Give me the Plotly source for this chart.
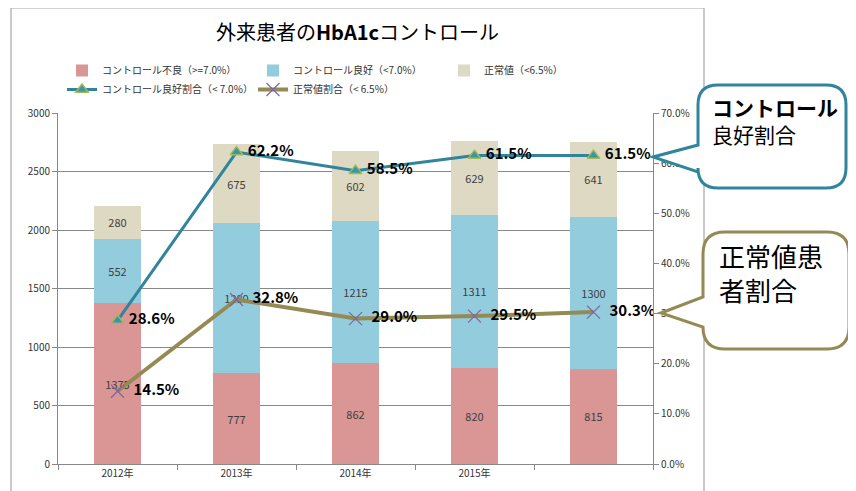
import plotly.graph_objects as go

# ---- data ----
categories = ["2012年", "2013年", "2014年", "2015年", " "]
poor_control = [1375, 777, 862, 820, 815]        # コントロール不良 (>=7.0%)
good_control = [552, 1280, 1215, 1311, 1300]     # コントロール良好 (<7.0%)
normal_value = [280, 675, 602, 629, 641]         # 正常値 (<6.5%)
good_ratio = [28.6, 62.2, 58.5, 61.5, 61.5]      # コントロール良好割合 (%)
normal_ratio = [14.5, 32.8, 29.0, 29.5, 30.3]    # 正常値割合 (%)
left_ticks = [0, 500, 1000, 1500, 2000, 2500, 3000]

# page body margin offset (browser default 8px)
OFF = 8
W, H = 856 - OFF, 491 - OFF
ML, MT = 58 - OFF, 113 - OFF
MR = W - (653 - OFF)
MB = H - (464 - OFF)
PW, PH = W - ML - MR, H - MT - MB


def px(x):
    """reference-screen x -> paper x"""
    return (x - OFF - ML) / PW


def py(y):
    """reference-screen y -> paper y"""
    return (H - MB - (y - OFF)) / PH


def callout(x0, y0, x1, y1, r, by0, by1, tx, ty):
    pts = [
        f"M{px(x0 + r)},{py(y0)}",
        f"L{px(x1 - r)},{py(y0)}",
        f"Q{px(x1)},{py(y0)} {px(x1)},{py(y0 + r)}",
        f"L{px(x1)},{py(y1 - r)}",
        f"Q{px(x1)},{py(y1)} {px(x1 - r)},{py(y1)}",
        f"L{px(x0 + r)},{py(y1)}",
        f"Q{px(x0)},{py(y1)} {px(x0)},{py(y1 - r)}",
        f"L{px(x0)},{py(by1)}",
        f"L{px(tx)},{py(ty)}",
        f"L{px(x0)},{py(by0)}",
        f"L{px(x0)},{py(y0 + r)}",
        f"Q{px(x0)},{py(y0)} {px(x0 + r)},{py(y0)}",
        "Z",
    ]
    return " ".join(pts)


FONT = "Noto Sans CJK JP"
fig = go.Figure()

fig.add_bar(x=categories, y=poor_control, name="コントロール不良（>=7.0%）",
            marker_color="#D99694", text=poor_control)
fig.add_bar(x=categories, y=good_control, name="コントロール良好（<7.0%）",
            marker_color="#93CDDD", text=good_control)
fig.add_bar(x=categories, y=normal_value, name="正常値（<6.5%）",
            marker_color="#DDD9C3", text=normal_value)
fig.update_traces(selector=dict(type="bar"), textposition="inside",
                  insidetextanchor="middle", textangle=0,
                  textfont=dict(size=11, color="#404040", family=FONT),
                  marker_line_width=0)

fig.add_scatter(x=categories, y=[v / 100 for v in good_ratio], yaxis="y2",
                name="コントロール良好割合（< 7.0%）", mode="lines+markers+text",
                line=dict(color="#31849B", width=3),
                marker=dict(symbol="triangle-up", size=11, color="#3F93A6",
                            line=dict(color="#9BBB59", width=1.5)),
                text=[f"{v:.1f}%" for v in good_ratio], texttemplate=" %{text}",
                textposition="middle right",
                textfont=dict(size=15, color="black", family=FONT, weight="bold"))
fig.add_scatter(x=categories, y=[v / 100 for v in normal_ratio], yaxis="y2",
                name="正常値割合（< 6.5%）", mode="lines+markers+text",
                line=dict(color="#948A54", width=4),
                marker=dict(symbol="x-thin", size=13, color="#8064A2",
                            line=dict(color="#8064A2", width=1.2)),
                text=[f"{v:.1f}%" for v in normal_ratio], texttemplate="  %{text}",
                textposition="middle right",
                textfont=dict(size=15, color="black", family=FONT, weight="bold"))

shapes = [
    dict(type="rect", xref="paper", yref="paper", x0=px(11), x1=px(704),
         y0=py(8), y1=py(500), line=dict(color="#A6A6A6", width=1.2),
         fillcolor="rgba(0,0,0,0)", layer="below"),
    dict(type="path", xref="paper", yref="paper",
         path=callout(698, 85, 846, 188, 20, 145, 172, 653, 157),
         line=dict(color="#31849B", width=3), fillcolor="white"),
    dict(type="path", xref="paper", yref="paper",
         path=callout(703, 232, 849, 349, 22, 297, 327, 661, 313),
         line=dict(color="#948A54", width=3), fillcolor="white"),
]

annotations = [
    dict(xref="paper", yref="paper", x=px(710), y=py(121), xanchor="left", yanchor="middle",
         align="left", text="<b>コントロール</b><br>良好割合", showarrow=False,
         font=dict(size=21, color="black", family=FONT)),
    dict(xref="paper", yref="paper", x=px(717), y=py(272), xanchor="left", yanchor="middle",
         align="left", text="正常値患<br>者割合", showarrow=False,
         font=dict(size=26, color="black", family=FONT)),
]

fig.update_layout(
    width=W, height=H, autosize=False,
    margin=dict(l=ML, r=MR, t=MT, b=MB),
    paper_bgcolor="white", plot_bgcolor="white",
    font=dict(family=FONT, color="#333333", size=10),
    barmode="stack", bargap=0.6,
    title=dict(text="外来患者の<b>HbA1c</b>コントロール", x=(357.5 - OFF) / W, xanchor="center",
               y=1 - (33 - OFF) / H, yanchor="middle",
               font=dict(size=20, color="black", family=FONT)),
    showlegend=True,
    legend=dict(orientation="h", x=px(62), y=py(56), xanchor="left", yanchor="top",
                traceorder="normal", entrywidth=146, entrywidthmode="pixels",
                font=dict(size=10, color="#333333", family=FONT), bgcolor="rgba(0,0,0,0)",
                itemwidth=30),
    xaxis=dict(type="category", tickson="boundaries", ticks="outside", ticklen=5,
               tickcolor="#888888", showline=True, linecolor="#888888", showgrid=False,
               tickfont=dict(size=10, color="#333333")),
    yaxis=dict(range=[0, 3000], tickvals=left_ticks, ticks="outside", ticklen=5,
               tickcolor="#888888", showline=True, linecolor="#888888",
               showgrid=True, gridcolor="#888888", gridwidth=1, zeroline=False,
               tickfont=dict(size=10, color="#333333")),
    yaxis2=dict(overlaying="y", side="right", range=[0, 0.7], dtick=0.1, tickformat=".1%",
                ticks="outside", ticklen=5, tickcolor="#888888", showline=True,
                linecolor="#888888", showgrid=False, zeroline=False,
                tickfont=dict(size=10, color="#333333")),
    shapes=shapes, annotations=annotations,
)

fig.write_html("out.html")
